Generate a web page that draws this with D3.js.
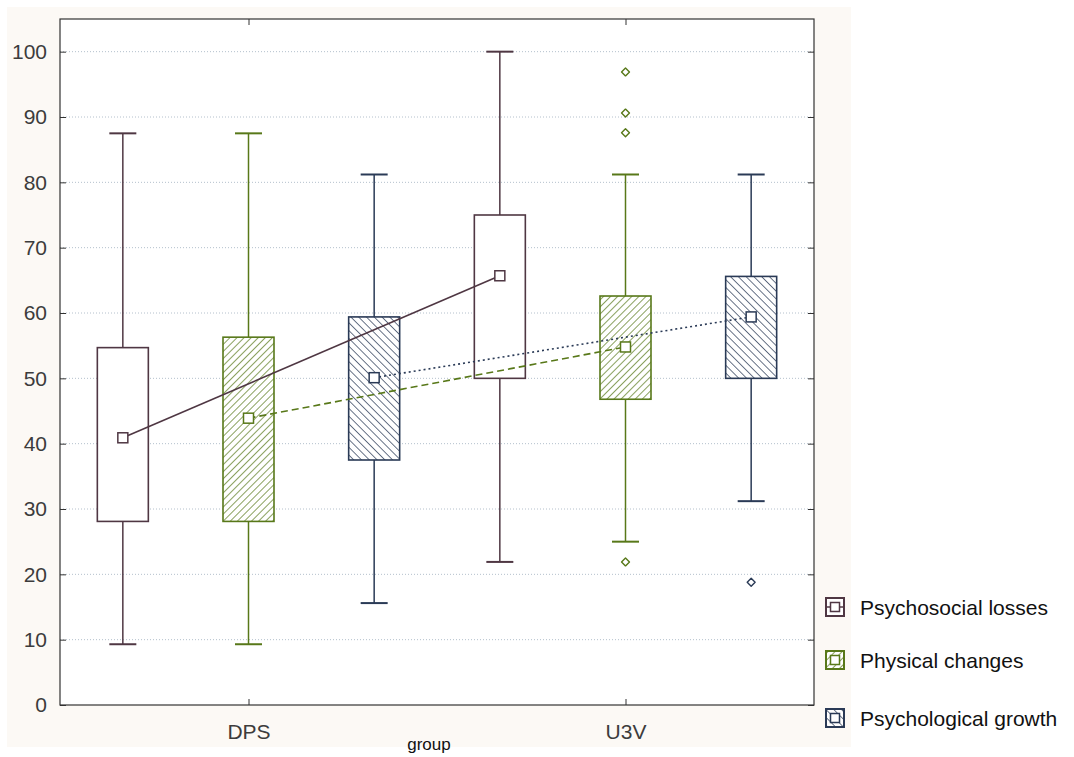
<!DOCTYPE html>
<html>
<head>
<meta charset="utf-8">
<script src="https://cdn.jsdelivr.net/npm/d3@7"></script>
<style>
  body { margin: 0; background: #fff; }
  svg { display: block; }
  .tick text { font-family: "Liberation Sans", Arial, sans-serif; font-size: 21px; fill: #3c3c3c; }
  .legend text { font-family: "Liberation Sans", Arial, sans-serif; font-size: 21px; fill: #111; }
</style>
</head>
<body>
<svg width="1074" height="757"></svg>
<script>
// data
const groups = ['DPS', 'U3V'];
const series = ['Psychosocial losses', 'Physical changes', 'Psychological growth'];
// one row per series, one value per group
const whiskerLow = [[9.3, 21.9], [9.3, 25.0], [15.6, 31.2]];
const boxLow = [[28.1, 50.0], [28.1, 46.8], [37.5, 50.0]];
const median = [[40.9, 65.7], [43.9, 54.8], [50.1, 59.4]];
const boxHigh = [[54.7, 75.0], [56.3, 62.6], [59.4, 65.6]];
const whiskerHigh = [[87.5, 100.0], [87.5, 81.2], [81.2, 81.2]];
const outliers = [
  {s: 1, g: 'U3V', v: 96.9},
  {s: 1, g: 'U3V', v: 90.6},
  {s: 1, g: 'U3V', v: 87.6},
  {s: 1, g: 'U3V', v: 21.9},
  {s: 2, g: 'U3V', v: 18.8}
];
const yTicks = [0, 10, 20, 30, 40, 50, 60, 70, 80, 90, 100];

const colors = ['#4f3743', '#587819', '#2a3a56'];
const lineDash = [null, '7,4', '2,3'];

const svg = d3.select('svg');
const margin = {top: 19, right: 260, bottom: 52, left: 60};
const height = +svg.attr('height');
const innerWidth = 814 - margin.left;
const innerHeight = height - margin.top - margin.bottom;

//cream page background
svg.append('rect')
  .attr('x', 7).attr('y', 7)
  .attr('width', 844).attr('height', 740)
  .attr('fill', '#fcf9f5');

//hatch patterns
const defs = svg.append('defs');
const addHatch = (id, color, angle, gap) => {
  const p = defs.append('pattern')
    .attr('id', id)
    .attr('patternUnits', 'userSpaceOnUse')
    .attr('width', gap).attr('height', gap)
    .attr('patternTransform', `rotate(${angle})`);
  p.append('rect').attr('width', gap).attr('height', gap).attr('fill', '#fff');
  p.append('line')
    .attr('x1', 0).attr('y1', 0).attr('x2', 0).attr('y2', gap)
    .attr('stroke', color).attr('stroke-width', 1.4);
};
addHatch('hatch1', colors[1], 45, 5);
addHatch('hatch2', colors[2], -45, 5.5);
const fills = ['#fff', 'url(#hatch1)', 'url(#hatch2)'];

const g = svg.append('g')
  .attr('transform', `translate(${margin.left}, ${margin.top})`);

g.append('rect')
  .attr('width', innerWidth).attr('height', innerHeight)
  .attr('fill', '#fff');

//scales
const y = d3.scaleLinear().domain([0, 105]).range([innerHeight, 0]);
const x = d3.scalePoint().domain(groups).range([0, innerWidth]).padding(0.5);
const step = x.step();
const xSub = d3.scaleBand().domain(d3.range(series.length))
  .range([-step / 2, step / 2]);
const cx = (s, gr) => x(gr) + xSub(s) + xSub.bandwidth() / 2;
const boxW = 51;
const capW = 27;

//grid
g.append('g')
  .selectAll('line')
  .data(yTicks.filter(d => d > 0))
  .enter().append('line')
    .attr('x1', 0).attr('x2', innerWidth)
    .attr('y1', d => y(d)).attr('y2', d => y(d))
    .attr('stroke', '#b4c0cc')
    .attr('stroke-dasharray', '1,2');

//axes
g.append('g')
  .call(d3.axisLeft(y).tickValues(yTicks).tickSize(-6).tickPadding(13));
const rightAxis = g.append('g')
  .attr('transform', `translate(${innerWidth}, 0)`)
  .call(d3.axisRight(y).tickValues(yTicks).tickSize(-6));
g.append('g')
  .attr('transform', `translate(0, ${innerHeight})`)
  .call(d3.axisBottom(x).tickSize(-6).tickPadding(19));
const topAxis = g.append('g')
  .call(d3.axisTop(x).tickSize(-6));
//mirror axes carry only tick marks
rightAxis.selectAll('text').remove();
topAxis.selectAll('text').remove();
g.selectAll('.domain').remove();
g.selectAll('.tick line').attr('stroke', '#333');

g.append('rect')
  .attr('width', innerWidth).attr('height', innerHeight)
  .attr('fill', 'none')
  .attr('stroke', '#333')
  .attr('stroke-width', 1.2);

//boxes
series.forEach((name, s) => {
  const col = colors[s];
  const bg = g.append('g').attr('class', 'series');
  groups.forEach((gr, j) => {
    const c = cx(s, gr);
    //whiskers
    bg.append('line')
      .attr('x1', c).attr('x2', c)
      .attr('y1', y(whiskerHigh[s][j])).attr('y2', y(boxHigh[s][j]))
      .attr('stroke', col).attr('stroke-width', 1.5);
    bg.append('line')
      .attr('x1', c).attr('x2', c)
      .attr('y1', y(boxLow[s][j])).attr('y2', y(whiskerLow[s][j]))
      .attr('stroke', col).attr('stroke-width', 1.5);
    [whiskerHigh[s][j], whiskerLow[s][j]].forEach(v => {
      bg.append('line')
        .attr('x1', c - capW / 2).attr('x2', c + capW / 2)
        .attr('y1', y(v)).attr('y2', y(v))
        .attr('stroke', col).attr('stroke-width', 2);
    });
    bg.append('rect')
      .attr('x', c - boxW / 2)
      .attr('y', y(boxHigh[s][j]))
      .attr('width', boxW)
      .attr('height', y(boxLow[s][j]) - y(boxHigh[s][j]))
      .attr('fill', fills[s])
      .attr('stroke', col).attr('stroke-width', 1.6);
  });
});

//lines joining the medians
const line = d3.line()
  .x(d => d[0]).y(d => d[1]);
series.forEach((name, s) => {
  g.append('path')
    .datum(groups.map((gr, j) => [cx(s, gr), y(median[s][j])]))
    .attr('d', line)
    .attr('fill', 'none')
    .attr('stroke', colors[s])
    .attr('stroke-width', 1.6)
    .attr('stroke-dasharray', lineDash[s]);
});

//median markers
series.forEach((name, s) => {
  groups.forEach((gr, j) => {
    g.append('rect')
      .attr('x', cx(s, gr) - 5).attr('y', y(median[s][j]) - 5)
      .attr('width', 10).attr('height', 10)
      .attr('fill', '#fff')
      .attr('stroke', colors[s]).attr('stroke-width', 1.5);
  });
});

//outliers
const diamond = d3.symbol().type(d3.symbolDiamond2).size(40);
g.selectAll('path.out')
  .data(outliers)
  .enter().append('path')
    .attr('class', 'out')
    .attr('transform', d => `translate(${cx(d.s, d.g)}, ${y(d.v)})`)
    .attr('d', diamond)
    .attr('fill', '#fff')
    .attr('stroke', d => colors[d.s])
    .attr('stroke-width', 1.4)
    .attr('stroke-linejoin', 'round');

//x title
svg.append('text')
  .attr('x', 429).attr('y', 750)
  .attr('text-anchor', 'middle')
  .style('font-family', '"Liberation Sans", Arial, sans-serif')
  .style('font-size', '17px')
  .attr('fill', '#111')
  .text('group');

//legend
const legendY = [607, 660, 718];
const leg = svg.append('g').attr('class', 'legend');
series.forEach((name, s) => {
  const item = leg.append('g')
    .attr('transform', `translate(826, ${legendY[s]})`);
  item.append('rect')
    .attr('x', 0).attr('y', -9)
    .attr('width', 18).attr('height', 18)
    .attr('fill', fills[s])
    .attr('stroke', colors[s]).attr('stroke-width', 2);
  if (s === 0) {
    item.append('line')
      .attr('x1', 0).attr('x2', 18).attr('y1', 0).attr('y2', 0)
      .attr('stroke', colors[s]).attr('stroke-width', 1.5);
  }
  item.append('rect')
    .attr('x', 4.5).attr('y', -4.5)
    .attr('width', 9).attr('height', 9)
    .attr('fill', '#fff')
    .attr('stroke', colors[s]).attr('stroke-width', 1.5);
  item.append('text')
    .attr('x', 34).attr('y', 7.5)
    .text(name);
});
</script>
</body>
</html>
